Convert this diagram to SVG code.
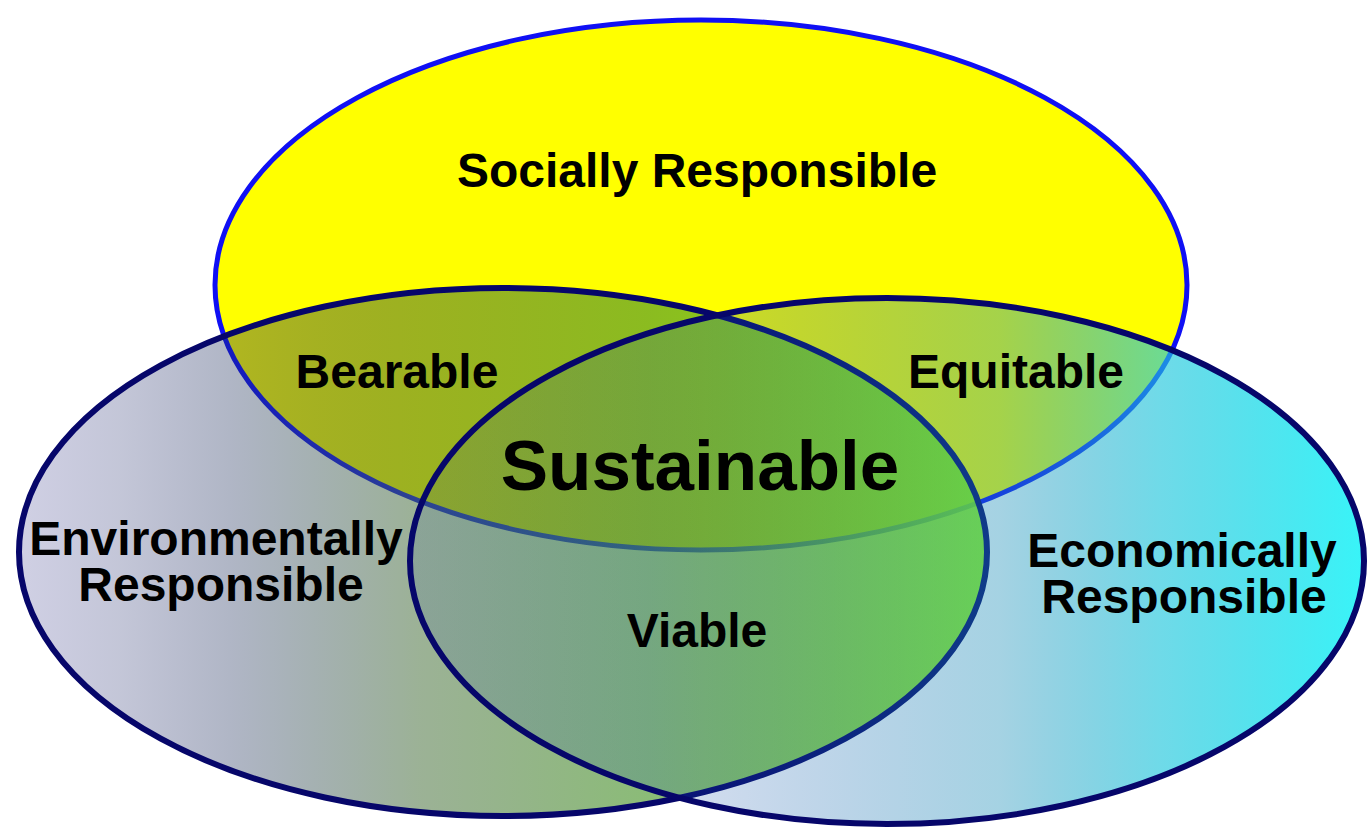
<svg xmlns="http://www.w3.org/2000/svg" width="1368" height="827" viewBox="0 0 1368 827">
  <defs>
    <linearGradient id="gLeft" gradientUnits="userSpaceOnUse" x1="18" y1="0" x2="988" y2="0">
      <stop offset="0" stop-color="#141478" stop-opacity="0.2"/>
      <stop offset="0.105" stop-color="#1a2468" stop-opacity="0.26"/>
      <stop offset="0.219" stop-color="#1d2e5b" stop-opacity="0.35"/>
      <stop offset="0.414" stop-color="#47703c" stop-opacity="0.54"/>
      <stop offset="0.652" stop-color="#4f9931" stop-opacity="0.66"/>
      <stop offset="1" stop-color="#8cfa00" stop-opacity="0.9"/>
    </linearGradient>
    <linearGradient id="gRight" gradientUnits="userSpaceOnUse" x1="410" y1="0" x2="1364" y2="0">
      <stop offset="0" stop-color="#143ca0" stop-opacity="0.12"/>
      <stop offset="0.304" stop-color="#1450aa" stop-opacity="0.2"/>
      <stop offset="0.618" stop-color="#1e90b9" stop-opacity="0.4"/>
      <stop offset="0.785" stop-color="#22c6dc" stop-opacity="0.65"/>
      <stop offset="1" stop-color="#32f4f8" stop-opacity="0.97"/>
    </linearGradient>
  </defs>
  <style>
    .lbl { font-family: "Liberation Sans", Arial, sans-serif; font-weight: bold; font-size: 48px; fill: #000; text-anchor: middle; }
    .big { font-size: 71px; }
    .navy { stroke: #06066a; stroke-width: 6; }
  </style>
  <rect width="1368" height="827" fill="#ffffff"/>
  <g id="social">
    <ellipse cx="701" cy="285" rx="486" ry="265" fill="#ffff00" stroke="#1010f4" stroke-width="5"/>
  </g>
  <g id="environmental">
    <ellipse cx="503" cy="552" rx="484" ry="264" fill="url(#gLeft)" class="navy"/>
  </g>
  <g id="economic">
    <ellipse cx="887" cy="561" rx="477" ry="263" fill="url(#gRight)" class="navy"/>
  </g>
  <g id="connectors"></g>
  <g id="labels">
    <text class="lbl" x="697" y="187">Socially Responsible</text>
    <text class="lbl" x="397" y="388">Bearable</text>
    <text class="lbl" x="1016" y="388">Equitable</text>
    <text class="lbl big" x="700" y="490">Sustainable</text>
    <text class="lbl" x="216" y="555">Environmentally<tspan x="221" y="601">Responsible</tspan></text>
    <text class="lbl" x="1182" y="567">Economically<tspan x="1184" y="613">Responsible</tspan></text>
    <text class="lbl" x="697" y="647">Viable</text>
  </g>
</svg>
